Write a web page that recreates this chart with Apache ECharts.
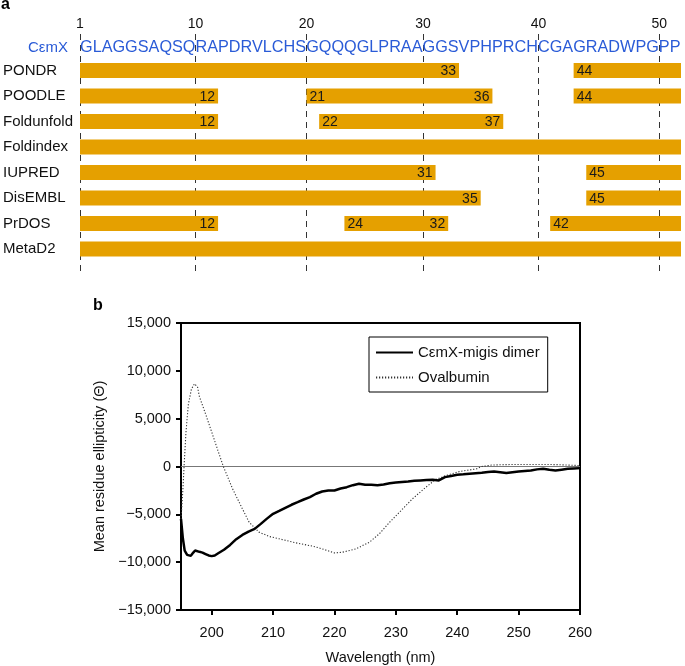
<!DOCTYPE html>
<html>
<head>
<meta charset="utf-8">
<script src="https://cdn.jsdelivr.net/npm/echarts@6/dist/echarts.min.js"></script>
<style>html,body{margin:0;padding:0;background:#fff}#c{width:685px;height:666px}</style>
</head>
<body>
<div id="c"></div>
<script>
// ---------- Panel a data ----------
const seqLabel = 'CεmX';
const sequence = 'GLAGGSAQSQRAPDRVLCHSGQQQGLPRAAGGSVPHPRCHCGAGRADWPGPP';
const residueTicks = [1, 10, 20, 30, 40, 50];
const rows = ['PONDR', 'POODLE', 'Foldunfold', 'Foldindex', 'IUPRED', 'DisEMBL', 'PrDOS', 'MetaD2'];
const segStarts = [[1, 44], [1, 21, 44], [1, 22], [1], [1, 45], [1, 45], [1, 24, 42], [1]];
const segEnds   = [[33, 52], [12, 36, 52], [12, 37], [52], [31, 52], [35, 52], [12, 32, 52], [52]];

// ---------- Panel b data ----------
const wlTicks = [200, 210, 220, 230, 240, 250, 260];
const dimerWl = [195,195.3,195.6,196,196.3,196.6,197,197.3,197.6,198,198.5,199,199.5,200,200.5,201,202,203,204,205,206,207,208,209,210,211,212,213,214,215,216,217,218,219,220,221,222,223,224,225,226,227,228,229,230,231,232,233,234,235,236,237,238,239,240,241,242,243,244,245,246,247,248,249,250,251,252,253,254,255,256,257,258,259,260];
const dimerVal = [-5470,-7500,-8800,-9240,-9100,-9340,-9000,-8780,-8700,-8920,-9000,-9150,-9300,-9370,-9300,-9100,-8700,-8200,-7600,-7150,-6800,-6520,-6000,-5450,-4950,-4650,-4320,-4000,-3730,-3450,-3200,-2850,-2610,-2500,-2510,-2300,-2160,-1950,-1810,-1900,-1910,-1950,-1880,-1750,-1680,-1620,-1570,-1500,-1460,-1420,-1390,-1460,-1110,-1000,-870,-820,-760,-700,-660,-580,-520,-600,-690,-600,-520,-470,-420,-300,-240,-350,-420,-330,-240,-200,-170];
const ovalWl = [195,195.3,195.5,195.8,196.2,196.7,197.2,197.7,198,199,200,201,201.9,203.4,205,206.1,207.7,209.4,211,213.7,216.5,218,220,221.3,223.5,225.7,227.3,229,230.6,232.7,234.9,236.5,238.2,240.4,243.2,244,245.6,248,252,256,260];
const ovalVal = [-5500,-2500,0,3500,6500,8100,8650,8300,7300,5500,3600,1700,0,-2330,-4420,-5820,-6860,-7320,-7560,-7980,-8330,-8610,-9030,-8960,-8610,-7910,-7040,-5820,-4770,-3380,-2160,-1360,-940,-520,-240,0,150,200,210,200,100];

// ---------- layout constants ----------
const FONT = "'Liberation Sans', Arial, Helvetica, sans-serif";
const SEQ_ROW = -0.9;
const BAR_COLOR = '#E5A000';
const SEQ_BLUE = '#2a5bd7';

// Residue axis follows the printed sequence: each residue occupies its glyph's advance width.
const letters = sequence.split('');
const mctx = document.createElement('canvas').getContext('2d');
mctx.font = '100px ' + FONT;
const cum = [0];
letters.forEach((ch, i) => cum.push(cum[i] + mctx.measureText(ch).width));
const seqEnd = cum[letters.length];
const tickPos = residueTicks.map(t => cum[t === 1 ? 0 : t]);

const barData = [];
rows.forEach((r, i) => segStarts[i].forEach((s, j) => barData.push([i, s, segEnds[i][j]])));

const chart = echarts.init(document.getElementById('c'), null, {renderer: 'canvas'});
chart.setOption({
  animation: false,
  textStyle: {fontFamily: FONT},
  graphic: [
    {type: 'text', left: 1, top: -3, style: {text: 'a', font: 'bold 16px ' + FONT, fill: '#000'}},
    {type: 'text', left: 93, top: 298, style: {text: 'b', font: 'bold 16px ' + FONT, fill: '#000'}}
  ],
  grid: [
    {left: 79, right: 4, top: 34, height: 238},
    {left: 181, right: 105, top: 323, height: 287, show: true, borderColor: '#000', borderWidth: 2, backgroundColor: 'transparent'}
  ],
  xAxis: [
    {
      type: 'value', gridIndex: 0, position: 'top', min: 0, max: seqEnd,
      axisLine: {show: false, onZero: false},
      axisTick: {show: false, customValues: tickPos},
      axisLabel: {
        customValues: tickPos,
        formatter: v => {
          let k = 0;
          tickPos.forEach((p, i) => { if (Math.abs(p - v) < Math.abs(tickPos[k] - v)) k = i; });
          return String(residueTicks[k]);
        },
        fontSize: 14, color: '#111', margin: 3
      },
      splitLine: {show: true, lineStyle: {color: '#333', width: 1, type: [6, 5]}}
    },
    {
      type: 'value', gridIndex: 1, min: 195, max: 260,
      axisLine: {show: true, onZero: false, lineStyle: {color: '#000', width: 2}},
      axisTick: {show: true, length: 5, inside: false, customValues: wlTicks, lineStyle: {color: '#000', width: 2}},
      axisLabel: {customValues: wlTicks, fontSize: 14.5, color: '#111', margin: 15},
      splitLine: {show: false},
      name: 'Wavelength (nm)', nameLocation: 'middle', nameGap: 40,
      nameTextStyle: {fontSize: 14.5, color: '#111'}
    }
  ],
  yAxis: [
    {
      type: 'value', gridIndex: 0, inverse: true, min: -1.43, max: 7.9,
      axisLine: {show: false, onZero: false},
      axisTick: {show: false},
      splitLine: {show: false},
      axisLabel: {
        customValues: [SEQ_ROW].concat(rows.map((r, i) => i)),
        formatter: v => v < 0 ? '{c|' + seqLabel + '}' : rows[Math.round(v)],
        align: 'left', margin: 77, fontSize: 15, color: '#111',
        rich: {c: {width: 65, align: 'right', fontSize: 15, color: SEQ_BLUE}}
      }
    },
    {
      type: 'value', gridIndex: 1, min: -15000, max: 15000, interval: 5000,
      axisLine: {show: true, onZero: false, lineStyle: {color: '#000', width: 2}},
      axisTick: {show: true, length: 5, lineStyle: {color: '#000', width: 2}},
      axisLabel: {
        fontSize: 14.5, color: '#111', margin: 10,
        formatter: v => (v < 0 ? '\u2212' : '') + Math.abs(v).toLocaleString('en-US')
      },
      splitLine: {show: false},
      name: 'Mean residue ellipticity (\u0398)', nameLocation: 'middle', nameGap: 74,
      nameTextStyle: {fontSize: 14.5, color: '#111'}
    }
  ],
  legend: {
    data: ['C\u03b5mX-migis dimer', 'Ovalbumin'],
    orient: 'vertical', left: 369, top: 337,
    padding: [8, 8, 7, 6], itemGap: 10, itemWidth: 37, itemHeight: 15,
    borderColor: '#000', borderWidth: 1, borderRadius: 0,
    itemStyle: {opacity: 0},
    textStyle: {fontSize: 15, color: '#111', fontFamily: FONT},
    selectedMode: false
  },
  series: [
    {
      type: 'custom', xAxisIndex: 0, yAxisIndex: 0, encode: {x: 0, y: 1}, data: [[0, SEQ_ROW]],
      renderItem: (params, api) => {
        const p0 = api.coord([0, api.value(1)]);
        const p1 = api.coord([seqEnd, api.value(1)]);
        const fs = (p1[0] - p0[0]) / seqEnd * 100;
        return {type: 'text', x: p0[0], y: p0[1],
          style: {text: sequence, align: 'left', verticalAlign: 'middle', font: fs.toFixed(3) + 'px ' + FONT, fill: SEQ_BLUE}};
      }
    },
    {
      type: 'custom', xAxisIndex: 0, yAxisIndex: 0, encode: {y: 0}, data: barData,
      renderItem: (params, api) => {
        const row = api.value(0), s = api.value(1), e = api.value(2);
        const p0 = api.coord([cum[s - 1], row]);
        const p1 = api.coord([cum[e], row]);
        const h = Math.abs(api.size([0, 1])[1]) * 0.59;
        const children = [{type: 'rect', shape: {x: p0[0], y: p0[1] - h / 2, width: p1[0] - p0[0], height: h}, style: {fill: BAR_COLOR}}];
        if (s > 1) children.push({type: 'text', x: p0[0] + 3, y: p0[1] + 1,
          style: {text: String(s), align: 'left', verticalAlign: 'middle', font: '14px ' + FONT, fill: '#1a1a1a'}});
        if (e < letters.length) children.push({type: 'text', x: p1[0] - 3, y: p0[1] + 1,
          style: {text: String(e), align: 'right', verticalAlign: 'middle', font: '14px ' + FONT, fill: '#1a1a1a'}});
        return {type: 'group', children: children};
      }
    },
    {
      name: 'C\u03b5mX-migis dimer', type: 'line', xAxisIndex: 1, yAxisIndex: 1,
      data: dimerWl.map((w, i) => [w, dimerVal[i]]),
      symbol: 'none', showSymbol: false, z: 4,
      lineStyle: {color: '#000', width: 2.5}, itemStyle: {color: '#000'},
      markLine: {silent: true, symbol: 'none', label: {show: false},
        lineStyle: {color: '#777', width: 1, type: 'solid'}, data: [{yAxis: 0}], z: 1}
    },
    {
      name: 'Ovalbumin', type: 'line', xAxisIndex: 1, yAxisIndex: 1,
      data: ovalWl.map((w, i) => [w, ovalVal[i]]),
      symbol: 'none', showSymbol: false, z: 3,
      lineStyle: {color: '#333', width: 1.1, type: [1.2, 1.8]}, itemStyle: {color: '#333'}
    }
  ]
});
</script>
</body>
</html>
